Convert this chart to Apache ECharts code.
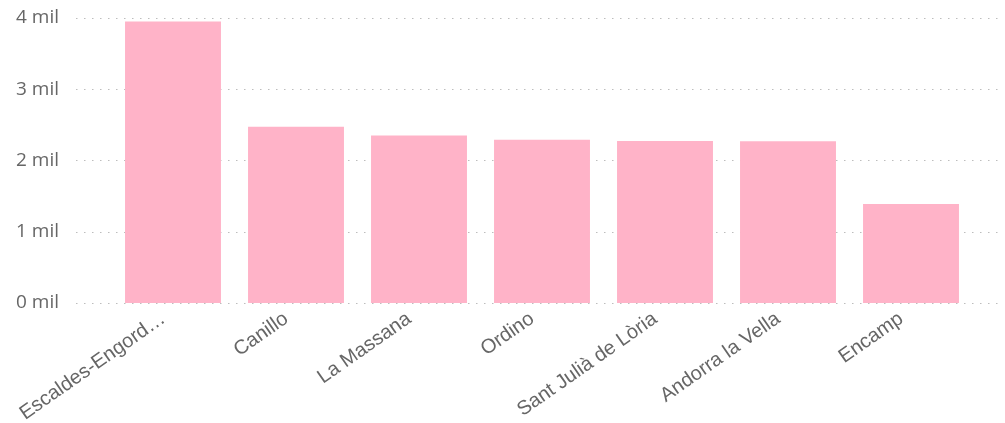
<!DOCTYPE html>
<html>
<head>
<meta charset="utf-8">
<script src="https://cdn.jsdelivr.net/npm/echarts@6/dist/echarts.min.js"></script>
<style>
html,body{margin:0;padding:0;background:#fff;}
#chart{width:1005px;height:423px;}
</style>
</head>
<body>
<div id="chart"></div>
<script>
const categories = ["Escaldes-Engordany", "Canillo", "La Massana", "Ordino", "Sant Julià de Lòria", "Andorra la Vella", "Encamp"];
const values = [3950, 2475, 2350, 2290, 2275, 2270, 1390];
const yTicks = [0, 1000, 2000, 3000, 4000];

const chart = echarts.init(document.getElementById('chart'), null, {renderer: 'canvas'});
const gridTop = 18, gridBottom = 120;
chart.setOption({
  animation: false,
  backgroundColor: '#ffffff',
  grid: [
    {left: 76, right: 5, top: gridTop, bottom: gridBottom, containLabel: false, outerBoundsMode: 'none'},
    {left: 111.5, right: 32.5, top: gridTop, bottom: gridBottom, containLabel: false, outerBoundsMode: 'none'}
  ],
  xAxis: [
    {gridIndex: 0, type: 'value', show: false, min: 0, max: 1},
    {
      gridIndex: 1, type: 'category', data: categories,
      axisLine: {show: false}, axisTick: {show: false},
      axisLabel: {
        rotate: 35, interval: 0, margin: 7,
        padding: [0, 12, 0, 0],
        color: '#666666', fontFamily: 'Liberation Sans, Arial, sans-serif', fontSize: 20,
        width: 176, overflow: 'truncate', ellipsis: '…'
      }
    }
  ],
  yAxis: [
    {
      gridIndex: 0, type: 'value', min: yTicks[0], max: yTicks[yTicks.length - 1], interval: yTicks[1] - yTicks[0],
      axisLine: {show: false}, axisTick: {show: false},
      axisLabel: {
        margin: 17, color: '#666666', fontFamily: 'Open Sans, Noto Sans, sans-serif', fontSize: 19,
        formatter: v => (v / 1000) + ' mil'
      },
      splitLine: {show: true, lineStyle: {color: '#bdbdbd', width: 1, type: [1.5, 6.5]}}
    },
    {
      gridIndex: 1, type: 'value', show: false, min: yTicks[0], max: yTicks[yTicks.length - 1],
      splitLine: {show: false}
    }
  ],
  series: [{
    type: 'bar', xAxisIndex: 1, yAxisIndex: 1, data: values,
    barWidth: '78%',
    itemStyle: {color: '#FFB3C8'}
  }]
});
</script>
</body>
</html>
